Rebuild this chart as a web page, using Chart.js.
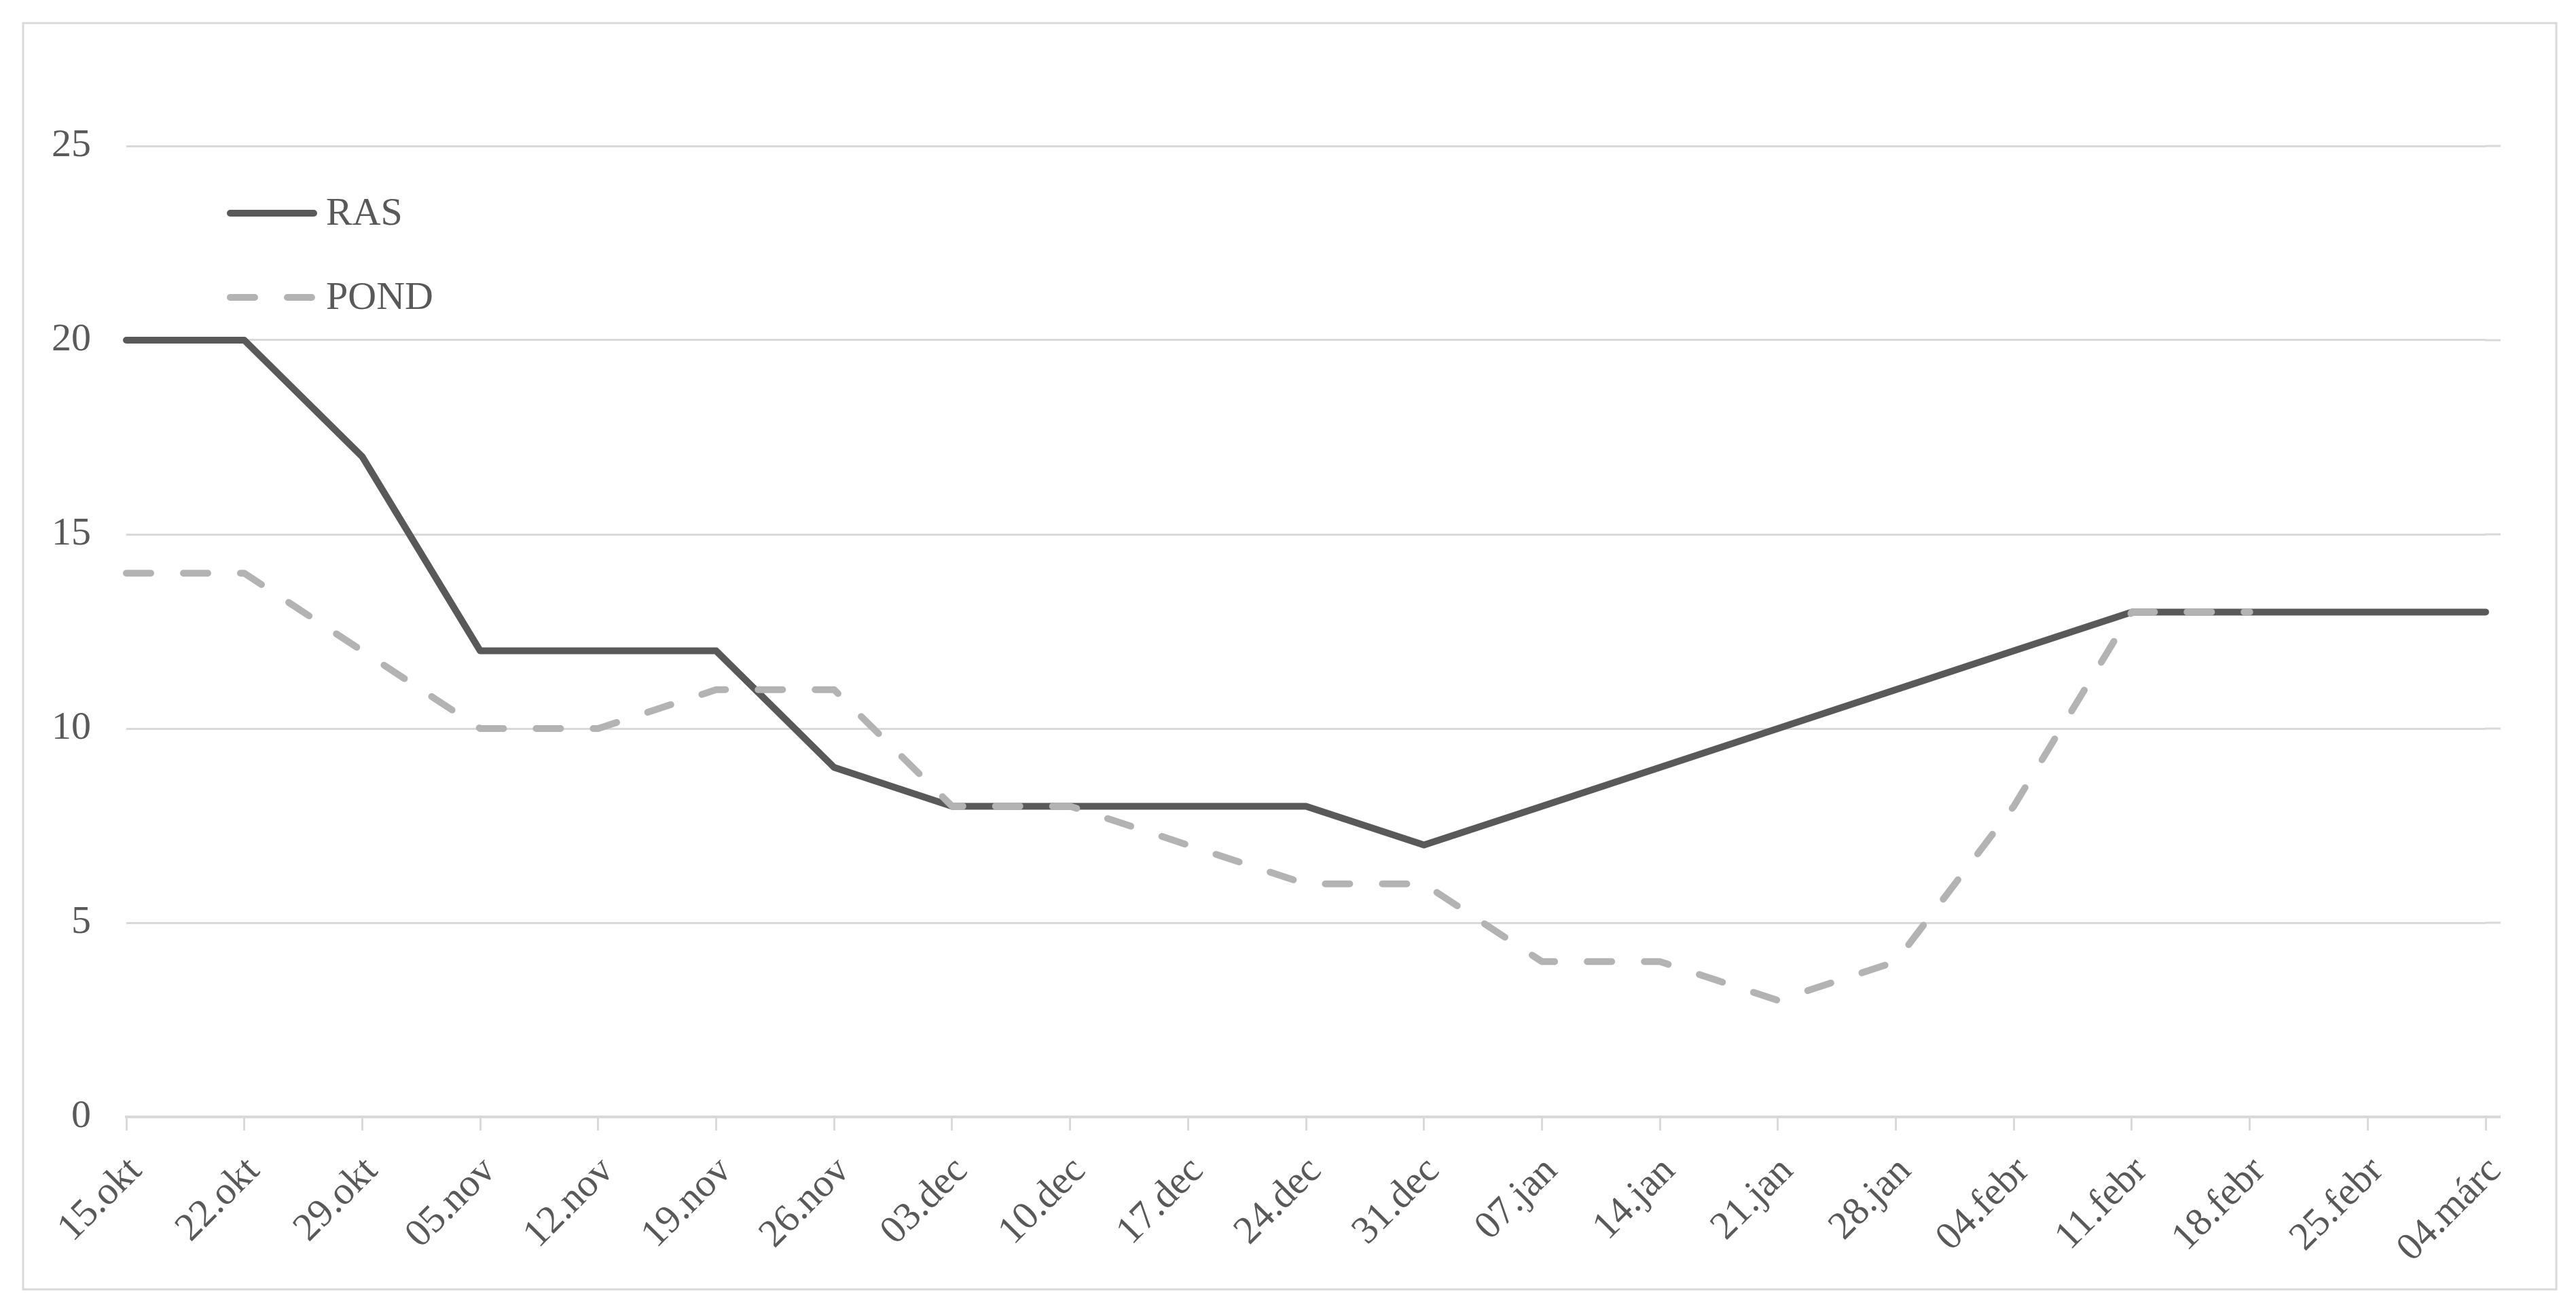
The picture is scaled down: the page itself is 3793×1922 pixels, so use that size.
<!DOCTYPE html>
<html>
<head>
<meta charset="utf-8">
<script src="https://cdn.jsdelivr.net/npm/chart.js@4.4.1/dist/chart.umd.min.js"></script>
<style>
  html, body { margin: 0; padding: 0; background: #ffffff; }
  canvas { display: block; }
</style>
</head>
<body>
<canvas id="c" width="3793" height="1922"></canvas>
<script>
const categories = ["15.okt","22.okt","29.okt","05.nov","12.nov","19.nov","26.nov","03.dec","10.dec","17.dec","24.dec","31.dec","07.jan","14.jan","21.jan","28.jan","04.febr","11.febr","18.febr","25.febr","04.márc"];
const rasValues  = [20,20,17,12,12,12,9,8,8,8,8,7,8,9,10,11,12,13,13,13,13];
const pondValues = [14,14,12,10,10,11,11,8,8,7,6,6,4,4,3,4,8,13,13,null,null];
const seriesNames = ["RAS","POND"];
const yTicks = [0,5,10,15,20,25];

const FONT = "'Liberation Serif','Times New Roman',serif";
const TEXT = "#595959";
const GRID = "#d9d9d9";
const EXTEND = 22;

const framePlugin = {
  id: 'frame',
  beforeDraw(chart) {
    const ctx = chart.ctx;
    ctx.save();
    ctx.fillStyle = '#ffffff';
    ctx.fillRect(0, 0, chart.width, chart.height);
    ctx.restore();
  },
  beforeDatasetsDraw(chart) {
    // extend horizontal gridlines and axis line slightly beyond the last category
    const ctx = chart.ctx;
    const ys = chart.scales.y;
    const r = chart.chartArea.right;
    ctx.save();
    ctx.strokeStyle = GRID;
    ys.ticks.forEach(t => {
      const y = ys.getPixelForValue(t.value);
      ctx.lineWidth = t.value === 0 ? 4 : 3;
      ctx.beginPath();
      ctx.moveTo(r - 1, y);
      ctx.lineTo(r + EXTEND, y);
      ctx.stroke();
    });
    ctx.restore();
  },
  afterDraw(chart) {
    const ctx = chart.ctx;
    ctx.save();
    ctx.strokeStyle = GRID;
    ctx.lineWidth = 3;
    ctx.strokeRect(34, 34, 3730, 1865);
    ctx.restore();
  }
};

const legendPlugin = {
  id: 'innerLegend',
  afterDatasetsDraw(chart) {
    const ctx = chart.ctx;
    const x0 = 334, x1 = 467, tx = 480;
    const ys = [314, 438];
    ctx.save();
    chart.data.datasets.forEach((ds, i) => {
      const y = ys[i];
      ctx.beginPath();
      ctx.strokeStyle = ds.borderColor;
      ctx.lineWidth = ds.borderWidth;
      ctx.lineCap = 'round';
      ctx.setLineDash(ds.borderDash || []);
      ctx.moveTo(x0 + 5, y);
      ctx.lineTo(x1 - 5, y);
      ctx.stroke();
      ctx.setLineDash([]);
      ctx.fillStyle = TEXT;
      ctx.font = "58px " + FONT;
      ctx.textBaseline = 'middle';
      ctx.textAlign = 'left';
      ctx.fillText(ds.label, tx, y + 2);
    });
    ctx.restore();
  }
};

new Chart(document.getElementById('c'), {
  type: 'line',
  data: {
    labels: categories,
    datasets: [
      {
        label: seriesNames[0],
        data: rasValues,
        borderColor: '#595959',
        borderWidth: 10,
        borderCapStyle: 'round',
        borderJoinStyle: 'round',
        pointRadius: 0,
        tension: 0,
        fill: false,
        order: 1
      },
      {
        label: seriesNames[1],
        data: pondValues,
        borderColor: '#b3b3b3',
        borderWidth: 10,
        borderDash: [36, 48],
        borderCapStyle: 'round',
        borderJoinStyle: 'round',
        pointRadius: 0,
        tension: 0,
        fill: false,
        spanGaps: false,
        order: 0
      }
    ]
  },
  options: {
    responsive: false,
    devicePixelRatio: 1,
    animation: false,
    layout: { padding: { left: 0, top: 215, right: 133, bottom: 0 } },
    plugins: {
      legend: { display: false },
      tooltip: { enabled: false },
      title: { display: false }
    },
    scales: {
      x: {
        type: 'category',
        offset: false,
        grid: { drawOnChartArea: false, drawTicks: true, tickLength: 20, tickWidth: 3, color: GRID },
        border: { display: true, color: GRID, width: 4 },
        ticks: {
          autoSkip: false,
          minRotation: 45,
          maxRotation: 45,
          padding: 26,
          labelOffset: 14,
          color: TEXT,
          font: { family: FONT, size: 58 }
        },
        afterFit(scale) { scale.height = 1922 - 1645; }
      },
      y: {
        min: 0,
        max: 25,
        afterBuildTicks(scale) { scale.ticks = yTicks.map(v => ({ value: v })); },
        grid: { drawTicks: false, color: GRID, lineWidth: 3 },
        border: { display: false },
        ticks: {
          stepSize: 5,
          padding: 52,
          color: TEXT,
          font: { family: FONT, size: 58 }
        },
        afterFit(scale) { scale.width = 186; }
      }
    }
  },
  plugins: [framePlugin, legendPlugin]
});
</script>
</body>
</html>
